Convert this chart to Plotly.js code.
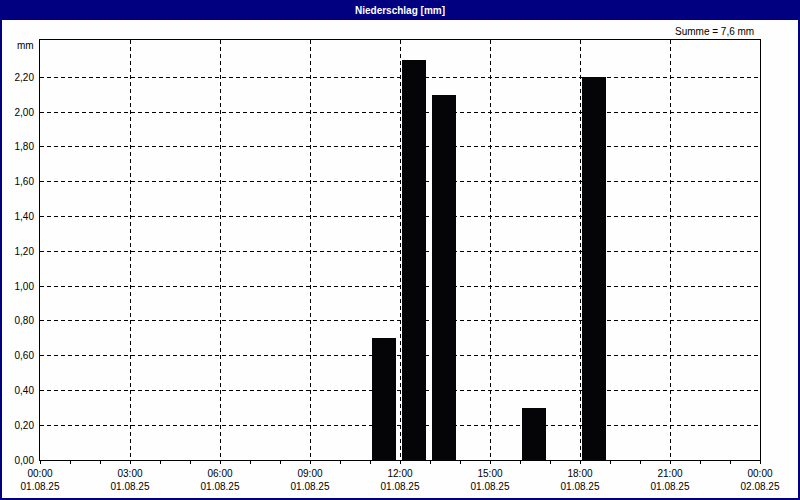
<!DOCTYPE html>
<html>
<head>
<meta charset="utf-8">
<script src="https://cdn.plot.ly/plotly-3.0.1.min.js"></script>
<style>
html,body{margin:0;padding:0;background:#fdfefd;}
#chart{width:800px;height:500px;}
</style>
</head>
<body>
<div id="chart"></div>
<script>
// Hourly precipitation (start of hour), 01.08.25
const hours = ["2025-08-01 00:00","2025-08-01 01:00","2025-08-01 02:00","2025-08-01 03:00",
  "2025-08-01 04:00","2025-08-01 05:00","2025-08-01 06:00","2025-08-01 07:00",
  "2025-08-01 08:00","2025-08-01 09:00","2025-08-01 10:00","2025-08-01 11:00",
  "2025-08-01 12:00","2025-08-01 13:00","2025-08-01 14:00","2025-08-01 15:00",
  "2025-08-01 16:00","2025-08-01 17:00","2025-08-01 18:00","2025-08-01 19:00",
  "2025-08-01 20:00","2025-08-01 21:00","2025-08-01 22:00","2025-08-01 23:00"];
const precip = [0,0,0,0,0,0,0,0,0,0,0,0.7,2.3,2.1,0,0,0.3,0,2.2,0,0,0,0,0];

const xTickVals = ["2025-08-01 00:00","2025-08-01 03:00","2025-08-01 06:00","2025-08-01 09:00",
  "2025-08-01 12:00","2025-08-01 15:00","2025-08-01 18:00","2025-08-01 21:00","2025-08-02 00:00"];
const xTickTimes = ["00:00","03:00","06:00","09:00","12:00","15:00","18:00","21:00","00:00"];
const xTickDates = ["01.08.25","01.08.25","01.08.25","01.08.25","01.08.25","01.08.25","01.08.25","01.08.25","02.08.25"];
const yTickVals = [0,0.2,0.4,0.6,0.8,1.0,1.2,1.4,1.6,1.8,2.0,2.2];

const titleText = "Niederschlag [mm]";
const unitText = "mm";

const total = precip.reduce((a,b)=>a+b,0);
const sumText = "Summe = " + total.toFixed(1).replace(".", ",") + " mm";

const HOUR = 3600000;
const font = {family: "Liberation Sans, Arial, sans-serif", size: 10, color: "#000000"};
const gridDash = "4px,3px";
const bg = "#fdfefd";

const trace = {
  type: "bar",
  x: hours,
  y: precip,
  width: 0.8*HOUR,
  offset: 0.075*HOUR,
  marker: {color: "#050407", line: {width: 0}},
  hoverinfo: "skip"
};

const layout = {
  width: 800, height: 500,
  margin: {l: 40, r: 40, t: 40, b: 40, pad: 0},
  paper_bgcolor: bg,
  plot_bgcolor: bg,
  font: font,
  separators: ",.",
  showlegend: false,
  bargap: 0,
  title: {
    text: "<b>" + titleText + "</b>",
    font: {family: "Liberation Sans, Arial, sans-serif", size: 10, color: "#ffffff"},
    x: 0.5, xanchor: "center", xref: "paper",
    y: 0.98, yanchor: "middle", yref: "container"
  },
  xaxis: {
    type: "date",
    range: ["2025-08-01 00:00", "2025-08-02 00:00"],
    tickmode: "array",
    tickvals: xTickVals,
    ticktext: xTickTimes.map((t,i)=> t + "<br>" + xTickDates[i]),
    ticks: "outside", ticklen: 3, tickcolor: "#000000", tickwidth: 1,
    ticklabelstandoff: 1,
    minor: {dtick: HOUR, tick0: "2025-08-01 00:00", ticks: "outside", ticklen: 3, tickcolor: "#000000", showgrid: false},
    showgrid: true, gridcolor: "#000000", gridwidth: 1, griddash: gridDash,
    showline: true, linecolor: "#000000", linewidth: 1, mirror: true,
    zeroline: false, automargin: false,
    tickfont: font, tickangle: 0, fixedrange: true
  },
  yaxis: {
    range: [0, 2.415],
    tickmode: "array",
    tickvals: yTickVals,
    tickformat: ".2f",
    ticks: "", ticklabelstandoff: 3,
    showgrid: true, gridcolor: "#000000", gridwidth: 1, griddash: gridDash,
    showline: true, linecolor: "#000000", linewidth: 1, mirror: true,
    zeroline: false, automargin: false,
    tickfont: font, fixedrange: true
  },
  shapes: [
    {type: "rect", xref: "paper", yref: "paper", layer: "above",
     x0: -40/720, x1: 1 + 40/720, y0: 1 + 20/420, y1: 1 + 40/420,
     fillcolor: "#000080", line: {width: 0}},
    {type: "rect", xref: "paper", yref: "paper", layer: "above",
     x0: -40/720, x1: 1 + 40/720, y0: -40/420, y1: 1 + 40/420,
     fillcolor: "rgba(0,0,0,0)", line: {color: "#000080", width: 4}}
  ],
  annotations: [
    {text: sumText, xref: "paper", yref: "paper", x: 716/720, y: 1 + 9/420,
     xanchor: "right", yanchor: "middle", showarrow: false, font: font},
    {text: unitText, xref: "paper", yref: "paper", x: -4/720, y: (460-45.5)/420,
     xanchor: "right", yanchor: "middle", showarrow: false, font: font}
  ]
};

Plotly.newPlot("chart", [trace], layout, {displayModeBar: false, staticPlot: true});
</script>
</body>
</html>
